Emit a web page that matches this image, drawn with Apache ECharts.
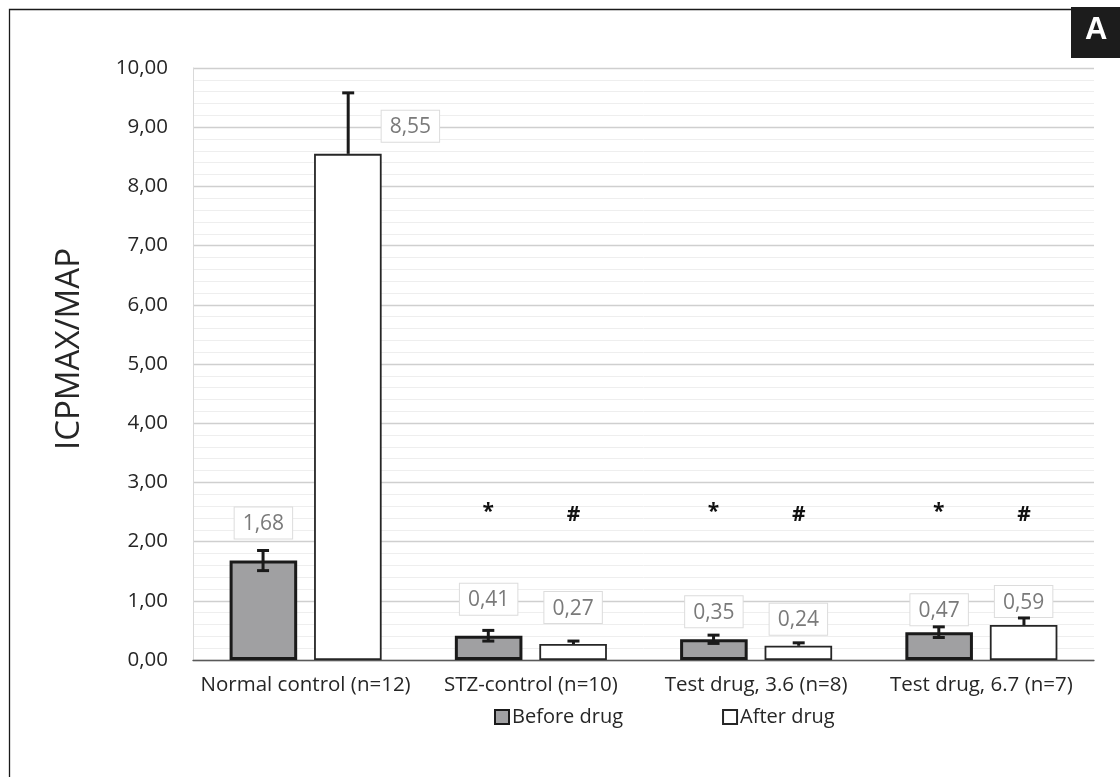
<!DOCTYPE html>
<html><head><meta charset="utf-8">
<script src="https://cdn.jsdelivr.net/npm/echarts@6/dist/echarts.min.js"></script>
<style>html,body{margin:0;padding:0;background:#fff}#c{width:1120px;height:777px}</style>
</head><body><div id="c"></div>
<script>
const categories = ['Normal control (n=12)', 'STZ-control (n=10)', 'Test drug, 3.6 (n=8)', 'Test drug, 6.7 (n=7)'];
const beforeDrug = [1.68, 0.41, 0.35, 0.47];
const afterDrug = [8.55, 0.27, 0.24, 0.59];
const beforeErr = [0.17, 0.09, 0.07, 0.09];
const afterErr = [1.03, 0.05, 0.05, 0.12];
const beforeMarks = ['', '*', '*', '*'];
const afterMarks = ['', '#', '#', '#'];
const markLevel = [2.5, 2.45];
const yTicks = [0, 1, 2, 3, 4, 5, 6, 7, 8, 9, 10];

const FONT = '"Open Sans"';
const fmt = v => v.toFixed(2).replace('.', ',');
const SIDE = 0.189; // fraction of band from category center to bar center

const labelBase = {
  show: true, position: 'top', color: '#7a7a7a', fontFamily: FONT, fontSize: 21,
  backgroundColor: '#fff', borderColor: '#dcdcdc', borderWidth: 1, padding: [6, 8, 4, 8],
  formatter: p => fmt(p.value)
};
const beforeDist = [22, 21, 12, 7];
const afterDist = [null, 21, 11, 8];

const errData = [];
beforeDrug.forEach((v, i) => errData.push([i, v, beforeErr[i], beforeErr[i], -1]));
afterDrug.forEach((v, i) => errData.push([i, v, 0, afterErr[i], 1]));
const markData = [];
beforeMarks.forEach((m, i) => { if (m) markData.push([i, markLevel[0], -1, m]); });
afterMarks.forEach((m, i) => { if (m) markData.push([i, markLevel[1], 1, m]); });

const chart = echarts.init(document.getElementById('c'), null, {renderer: 'canvas'});
chart.setOption({
  animation: false,
  textStyle: {fontFamily: FONT},
  grid: {left: 193, right: 26, top: 68, bottom: 117},
  graphic: [
    {type: 'rect', left: 7, top: 7, shape: {width: 1130, height: 790}, style: {fill: 'none', stroke: '#1a1a1a', lineWidth: 1.3}, silent: true},
    {type: 'rect', left: 1071, top: 7, shape: {width: 60, height: 51}, style: {fill: '#1c1c1c'}, z: 10},
    {type: 'text', left: 1085, top: 15, style: {text: 'A', fill: '#fff', font: 'bold 31px "Liberation Sans", Arial'}, z: 11}
  ],
  legend: {
    left: 489, top: 702, itemWidth: 14, itemHeight: 14, itemGap: 99,
    icon: 'rect',
    textStyle: {fontFamily: FONT, fontSize: 20, color: '#262626', padding: [0, 0, 0, -2]},
    data: ['Before drug', 'After drug']
  },
  xAxis: {
    type: 'category', data: categories,
    axisTick: {show: false},
    axisLine: {lineStyle: {color: '#595959', width: 1.3}},
    axisLabel: {color: '#262626', fontSize: 20.5, fontFamily: FONT, margin: 15, interval: 0, hideOverlap: false}
  },
  yAxis: {
    type: 'value', min: yTicks[0], max: yTicks[yTicks.length - 1], interval: 1,
    name: 'ICPMAX/MAP', nameLocation: 'middle', nameGap: 107,
    nameTextStyle: {fontSize: 33, color: '#262626', fontFamily: FONT, padding: [0, 0, 0, 30]},
    axisLine: {show: true, lineStyle: {color: '#d9d9d9'}},
    axisTick: {show: false},
    axisLabel: {color: '#262626', fontSize: 20.5, fontFamily: FONT, margin: 25, formatter: v => fmt(v)},
    splitLine: {lineStyle: {color: '#cfcfcf', width: 1.3}},
    minorTick: {show: false, splitNumber: 5},
    minorSplitLine: {show: true, lineStyle: {color: '#eeeeee', width: 1}}
  },
  series: [
    {
      name: 'Before drug', type: 'bar', barWidth: '30%', barGap: '25%',
      itemStyle: {color: '#a0a0a2', borderColor: '#1a1a1a', borderWidth: 3},
      data: beforeDrug.map((v, i) => ({value: v, label: Object.assign({}, labelBase, {distance: beforeDist[i]})})),
      z: 2
    },
    {
      name: 'After drug', type: 'bar', barWidth: '30%', barGap: '25%',
      itemStyle: {color: '#ffffff', borderColor: '#262626', borderWidth: 1.8},
      data: afterDrug.map((v, i) => ({
        value: v,
        label: afterDist[i] == null
          ? Object.assign({}, labelBase, {position: ['100%', -43]})
          : Object.assign({}, labelBase, {distance: afterDist[i]})
      })),
      z: 2
    },
    {
      type: 'custom', z: 5, silent: true,
      data: errData,
      renderItem: function (params, api) {
        const ci = api.value(0), v = api.value(1), lo = api.value(2), hi = api.value(3), side = api.value(4);
        const band = api.size([1, 0])[0];
        const c = api.coord([ci, v]);
        const x = c[0] + side * band * SIDE;
        const yt = api.coord([ci, v + hi])[1];
        const yb = api.coord([ci, v - lo])[1];
        const cap = 6;
        const st = {stroke: '#1a1a1a', lineWidth: 3};
        const ch = [
          {type: 'line', shape: {x1: x, y1: yt, x2: x, y2: yb}, style: st},
          {type: 'line', shape: {x1: x - cap, y1: yt, x2: x + cap, y2: yt}, style: st}
        ];
        if (lo > 0) ch.push({type: 'line', shape: {x1: x - cap, y1: yb, x2: x + cap, y2: yb}, style: st});
        return {type: 'group', children: ch};
      }
    },
    {
      type: 'custom', z: 5, silent: true,
      data: markData,
      renderItem: function (params, api) {
        const ci = api.value(0), v = api.value(1), side = api.value(2);
        const band = api.size([1, 0])[0];
        const c = api.coord([ci, v]);
        return {
          type: 'text',
          style: {
            x: c[0] + side * band * SIDE, y: c[1], text: markData[params.dataIndex][3],
            fill: '#111', font: 'bold 21px "Open Sans", Arial', align: 'center', verticalAlign: 'middle'
          }
        };
      }
    }
  ]
});
</script>
</body></html>
